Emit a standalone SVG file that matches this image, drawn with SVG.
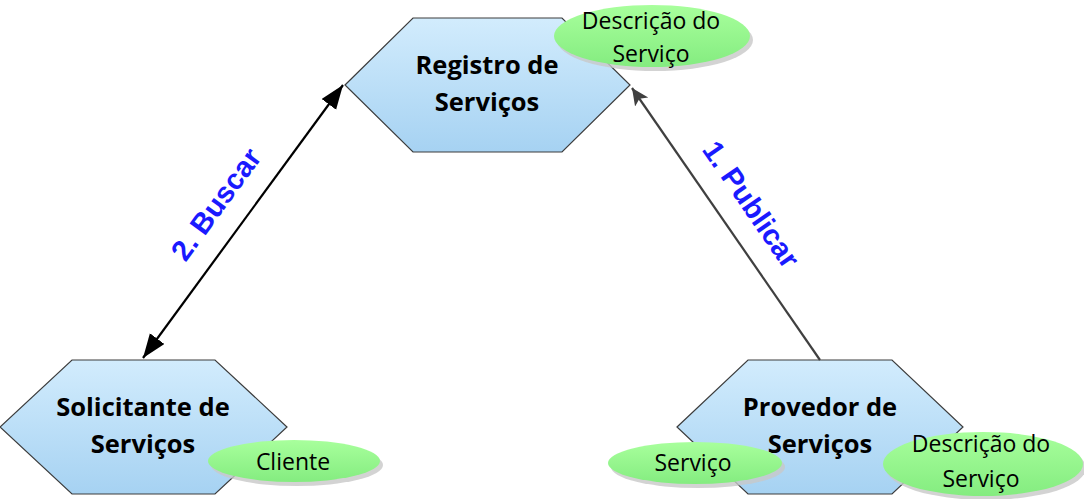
<svg xmlns="http://www.w3.org/2000/svg" width="1084" height="499" viewBox="0 0 1084 499">
<defs>
<linearGradient id="hexg" x1="0" y1="0" x2="0" y2="1">
<stop offset="0" stop-color="#d2ecfd"/>
<stop offset="1" stop-color="#a6d2f2"/>
</linearGradient>
<linearGradient id="ellg" x1="0" y1="0" x2="0" y2="1">
<stop offset="0" stop-color="#a8ff9c"/>
<stop offset="1" stop-color="#84ec80"/>
</linearGradient>
<marker id="ahb" markerUnits="userSpaceOnUse" markerWidth="26" markerHeight="20" refX="24" refY="9" orient="auto-start-reverse">
<path d="M0,0 L24,9 L0,18 Z" fill="#000"/>
</marker>
<marker id="ahg" markerUnits="userSpaceOnUse" markerWidth="20" markerHeight="18" refX="17" refY="8" orient="auto">
<path d="M0,0 L17,8 L0,16 L4,8 Z" fill="#404040"/>
</marker>
<style>
.hex{fill:url(#hexg);stroke:#3c3c3c;stroke-width:1.2}
.ell{fill:url(#ellg);stroke:none}
.sh{fill:#c8c8c8;opacity:0.8}
.nt{font-family:"Open Sans","Liberation Sans",sans-serif;font-weight:bold;font-size:25.5px;fill:#000;text-anchor:middle}
.et{font-family:"Open Sans","Liberation Sans",sans-serif;font-size:23px;fill:#000;text-anchor:middle}
.lb{font-family:"Liberation Sans",Arial,sans-serif;font-weight:bold;font-size:29px;fill:#1a1aff;text-anchor:middle}
</style>
</defs>
<rect width="1084" height="499" fill="#fff"/>

<g id="node-registro">
<polygon class="hex" points="345,85 413,18 562,18 630,85 562,152 413,152"/>
<text class="nt" x="487" y="74">Registro de</text>
<text class="nt" x="487" y="111">Serviços</text>
<ellipse class="sh" cx="655" cy="40" rx="98" ry="31"/>
<ellipse class="ell" cx="652" cy="36" rx="98" ry="31"/>
<text class="et" x="651" y="29">Descrição do</text>
<text class="et" x="651" y="62">Serviço</text>
</g>

<g id="node-solicitante">
<polygon class="hex" points="0,427 72,360 215,360 287,427 215,494 72,494"/>
<text class="nt" x="143" y="416">Solicitante de</text>
<text class="nt" x="143" y="453">Serviços</text>
<ellipse class="sh" cx="297" cy="465" rx="86" ry="21"/>
<ellipse class="ell" cx="294" cy="461" rx="86" ry="21"/>
<text class="et" x="293" y="470">Cliente</text>
</g>

<g id="node-provedor">
<polygon class="hex" points="677,427 748,360 892,360 963,427 892,494 748,494"/>
<text class="nt" x="820" y="416">Provedor de</text>
<text class="nt" x="820" y="453">Serviços</text>
<ellipse class="sh" cx="698" cy="467" rx="87" ry="21"/>
<ellipse class="ell" cx="695" cy="463" rx="87" ry="21"/>
<text class="et" x="693" y="471">Serviço</text>
<ellipse class="sh" cx="986" cy="468" rx="100" ry="32"/>
<ellipse class="ell" cx="983" cy="464" rx="100" ry="32"/>
<text class="et" x="981" y="452">Descrição do</text>
<text class="et" x="981" y="487">Serviço</text>
</g>

<g id="connectors">
<line x1="143" y1="358" x2="343" y2="85" stroke="#000" stroke-width="2.2" marker-start="url(#ahb)" marker-end="url(#ahb)"/>
<line x1="820" y1="360" x2="632" y2="88" stroke="#404040" stroke-width="2.2" marker-end="url(#ahg)"/>
<text class="lb" transform="translate(224,210) rotate(-53.8)">2. Buscar</text>
<text class="lb" transform="translate(743,210) rotate(55.35)">1. Publicar</text>
</g>
</svg>
